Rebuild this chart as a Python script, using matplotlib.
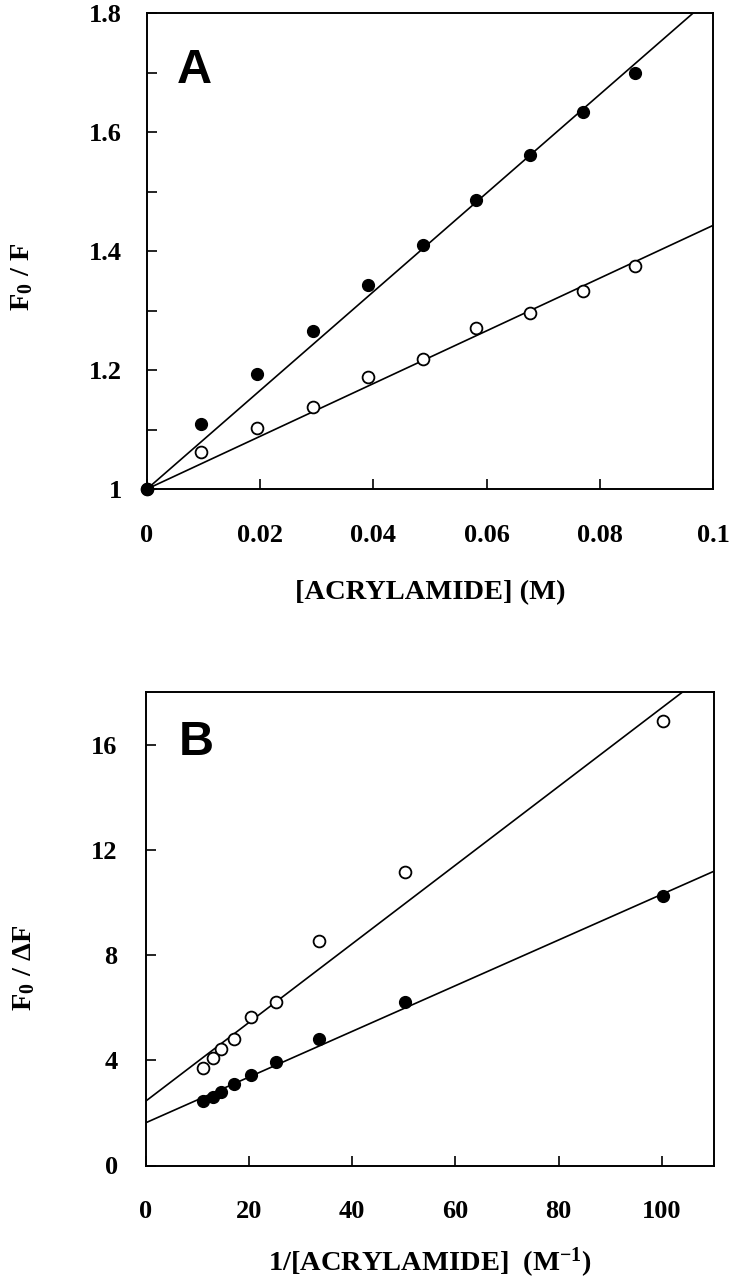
import matplotlib
matplotlib.use("Agg")
import matplotlib.pyplot as plt
import numpy as np
from matplotlib.ticker import FixedLocator, FixedFormatter

plt.rcParams['font.family'] = ['Liberation Serif', 'DejaVu Serif']
plt.rcParams['font.weight'] = 'bold'
plt.rcParams['mathtext.fontset'] = 'custom'
plt.rcParams['mathtext.rm'] = 'Liberation Serif:bold'
plt.rcParams['mathtext.bf'] = 'Liberation Serif:bold'
plt.rcParams['mathtext.it'] = 'Liberation Serif:bold'

# ---- Panel A data: Stern-Volmer ----
conc_A = [0.0, 0.0096, 0.0194, 0.0293, 0.0391, 0.0487, 0.0582, 0.0677, 0.0770, 0.0862]
filled_A = [1.0, 1.109, 1.194, 1.266, 1.343, 1.410, 1.486, 1.562, 1.633, 1.699]
open_A = [1.0, 1.063, 1.102, 1.138, 1.189, 1.219, 1.270, 1.295, 1.332, 1.375]
fit_A_filled = (1.0, 8.29)   # intercept, slope
fit_A_open = (1.0, 4.43)

# ---- Panel B data: modified Stern-Volmer ----
inv_B = [11.2, 13.0, 14.6, 17.1, 20.4, 25.2, 33.6, 50.3, 100.3]
open_B = [3.71, 4.09, 4.43, 4.79, 5.65, 6.22, 8.55, 11.14, 16.9]
filled_B = [2.44, 2.61, 2.80, 3.10, 3.43, 3.94, 4.81, 6.20, 10.23]
fit_B_open = (2.44, 0.1496)
fit_B_filled = (1.62, 0.0869)

xticks_A = [0, 0.02, 0.04, 0.06, 0.08, 0.1]
xticklabels_A = ['0', '0.02', '0.04', '0.06', '0.08', '0.1']
yticks_A = [1.0, 1.2, 1.4, 1.6, 1.8]
yticklabels_A = ['1', '1.2', '1.4', '1.6', '1.8']
yminor_A = [1.1, 1.3, 1.5, 1.7]
xticks_B = [0, 20, 40, 60, 80, 100]
xticklabels_B = ['0', '20', '40', '60', '80', '100']
yticks_B = [0, 4, 8, 12, 16]
yticklabels_B = ['0', '4', '8', '12', '16']

W, H = 730, 1280
fig = plt.figure(figsize=(W/100, H/100), dpi=100)
axA = fig.add_axes([147/W, 1-489/H, 566/W, 476/H])
axB = fig.add_axes([145.5/W, 1-1165.5/H, 568/W, 473.5/H])

ms = 8.5
lw = 1.2

def style(ax):
    for s in ax.spines.values():
        s.set_linewidth(1.4)
    ax.tick_params(which='both', direction='in', length=7, width=1.2,
                   top=False, right=False, labelsize=19)
    for lab in ax.get_xticklabels() + ax.get_yticklabels():
        lab.set_fontweight('bold')

# Panel A
xx = np.linspace(0, 0.1, 50)
axA.plot(xx, fit_A_filled[0] + fit_A_filled[1]*xx, color='black', lw=lw)
axA.plot(xx, fit_A_open[0] + fit_A_open[1]*xx, color='black', lw=lw)
axA.plot(conc_A, open_A, 'o', ms=ms, mfc='white', mec='black', mew=1.3, clip_on=False, zorder=3)
axA.plot(conc_A, filled_A, 'o', ms=ms, mfc='black', mec='black', clip_on=False, zorder=4)
axA.set_xlim(0, 0.1)
axA.set_ylim(1.0, 1.8)
axA.xaxis.set_major_locator(FixedLocator(xticks_A))
axA.xaxis.set_major_formatter(FixedFormatter(xticklabels_A))
axA.yaxis.set_major_locator(FixedLocator(yticks_A))
axA.yaxis.set_major_formatter(FixedFormatter(yticklabels_A))
axA.yaxis.set_minor_locator(FixedLocator(yminor_A))
style(axA)
axA.tick_params(axis='x', which='both', pad=25)
axA.tick_params(axis='y', which='both', pad=18)
axA.set_xlabel('[ACRYLAMIDE] (M)', fontsize=20.5, fontweight='bold', labelpad=24)
axA.text(0.052, 0.853, 'A', transform=axA.transAxes, fontsize=35,
         fontweight='bold', family='Liberation Sans', ha='left', va='baseline')
fig.text(22/W, 1-277/H, 'F$_{0}$ / F', rotation=90, fontsize=20.5,
         fontweight='bold', ha='center', va='center')

# Panel B
xb = np.linspace(0, 110, 50)
axB.plot(xb, fit_B_open[0] + fit_B_open[1]*xb, color='black', lw=lw)
axB.plot(xb, fit_B_filled[0] + fit_B_filled[1]*xb, color='black', lw=lw)
axB.plot(inv_B, open_B, 'o', ms=ms, mfc='white', mec='black', mew=1.3, zorder=3)
axB.plot(inv_B, filled_B, 'o', ms=ms, mfc='black', mec='black', zorder=4)
axB.set_xlim(0, 110)
axB.set_ylim(0, 18)
axB.xaxis.set_major_locator(FixedLocator(xticks_B))
axB.xaxis.set_major_formatter(FixedFormatter(xticklabels_B))
axB.yaxis.set_major_locator(FixedLocator(yticks_B))
axB.yaxis.set_major_formatter(FixedFormatter(yticklabels_B))
style(axB)
axB.tick_params(axis='x', which='both', pad=25)
axB.tick_params(axis='y', which='both', pad=20)
axB.set_xlabel('1/[ACRYLAMIDE]  (M$^{-1}$)', fontsize=20.5, fontweight='bold', labelpad=16)
axB.text(0.058, 0.867, 'B', transform=axB.transAxes, fontsize=35,
         fontweight='bold', family='Liberation Sans', ha='left', va='baseline')
fig.text(24/W, 1-968/H, 'F$_{0}$ / ΔF', rotation=90, fontsize=20.5,
         fontweight='bold', ha='center', va='center')

fig.savefig('out.png', dpi=100)
